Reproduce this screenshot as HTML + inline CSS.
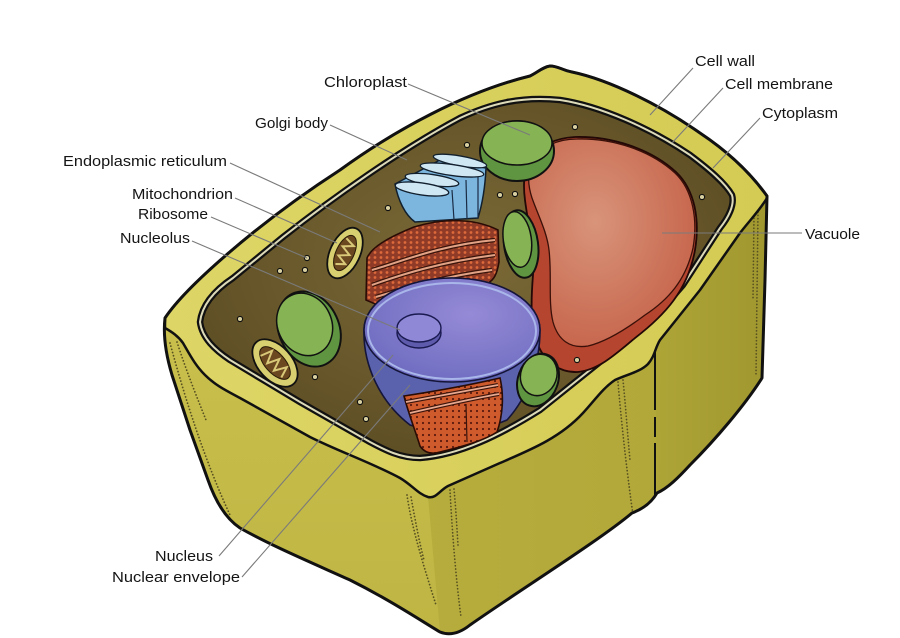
<!DOCTYPE html>
<html><head><meta charset="utf-8"><style>
html,body{margin:0;padding:0;background:#fff;}
svg{display:block;}
text{font-family:"Liberation Sans",Arial,sans-serif;font-size:15px;fill:#141414;}
</style></head><body>
<svg width="900" height="638" viewBox="0 0 900 638" xmlns="http://www.w3.org/2000/svg">
<defs>
 <linearGradient id="rim" x1="0" y1="0" x2="1" y2="0"><stop offset="0" stop-color="#ddd566"/><stop offset="1" stop-color="#d4cb54"/></linearGradient>
 <linearGradient id="lf" x1="0" y1="0" x2="0" y2="1"><stop offset="0" stop-color="#c9bf4c"/><stop offset="1" stop-color="#bfb544"/></linearGradient>
 <linearGradient id="mf" x1="0" y1="0" x2="1" y2="0"><stop offset="0" stop-color="#bcb241"/><stop offset="1" stop-color="#b0a638"/></linearGradient>
 <linearGradient id="rf" x1="0" y1="0" x2="1" y2="0"><stop offset="0" stop-color="#aea537"/><stop offset="1" stop-color="#a0972f"/></linearGradient>
 <radialGradient id="cy" cx="0.5" cy="0.45" r="0.6"><stop offset="0" stop-color="#7b6a37"/><stop offset="1" stop-color="#5c4c23"/></radialGradient>
 <radialGradient id="vl" cx="0.4" cy="0.4" r="0.65"><stop offset="0" stop-color="#d8947a"/><stop offset="1" stop-color="#c6644b"/></radialGradient>
 <radialGradient id="nt" cx="0.6" cy="0.35" r="0.7"><stop offset="0" stop-color="#958ad6"/><stop offset="1" stop-color="#6e6cc0"/></radialGradient>
 <pattern id="erU" width="6" height="5" patternUnits="userSpaceOnUse"><rect width="6" height="5" fill="#8f3b27"/><circle cx="3" cy="2.5" r="1.4" fill="#de6a3c"/></pattern>
 <pattern id="erL" width="6" height="6" patternUnits="userSpaceOnUse"><rect width="6" height="6" fill="#cf5a2c"/><circle cx="3" cy="3" r="1.1" fill="#5a1a0c"/></pattern>
</defs>
<rect width="900" height="638" fill="#fff"/>

<path d="M165,318 C185,288 255,225 340,170 C395,130 465,92 530,76 C538,72 543,67 550,66 C558,66 562,70 572,72 C610,80 660,105 700,133 C730,153 752,175 767,196 L765,280 L762,378 C745,405 715,440 690,465 C678,478 668,488 657,493 C650,505 640,510 632,513 C600,540 520,590 470,625 C460,633 450,636 440,632 C420,620 390,600 350,580 C310,562 270,545 240,528 C225,518 215,500 208,480 L190,430 L172,375 C166,355 163,335 165,318 Z" fill="url(#mf)"/>
<path d="M165,328 C172,332 178,336 183,343 C190,355 195,365 205,375 C215,385 225,390 240,398 L310,437 C340,452 370,462 400,478 C412,485 418,494 428,497 L440,632 C420,620 390,600 350,580 C310,562 270,545 240,528 C225,518 215,500 208,480 L190,430 L172,375 C166,355 163,335 165,328 Z" fill="url(#lf)"/>
<path d="M660,340 L700,290 L740,233 C750,220 760,210 767,198 L765,280 L762,378 C745,405 715,440 690,465 C678,478 668,488 657,493 L655,350 Z" fill="url(#rf)"/>

<g fill="none" stroke="#575020" stroke-width="1.7" stroke-dasharray="0.1 3.2" stroke-linecap="round">
 <path d="M170,343 C180,380 200,450 230,515"/>
 <path d="M177,342 C186,370 196,395 206,420"/>
 <path d="M407,495 C412,530 425,570 436,605"/>
 <path d="M411,497 C416,525 420,545 424,560"/>
 <path d="M450,490 C452,530 456,580 461,617"/>
 <path d="M454,489 C456,510 457,530 458,545"/>
 <path d="M618,382 C622,430 628,480 633,515"/>
 <path d="M623,380 C626,410 628,440 630,460"/>
 <path d="M758,212 L756,375"/>
 <path d="M754,215 L753,300"/>
</g>

<path d="M165,318 C185,288 255,225 340,170 C395,130 465,92 530,76 C538,72 543,67 550,66 C558,66 562,70 572,72 C610,80 660,105 700,133 C730,153 752,175 767,196 L767,198 C760,210 750,220 740,233 L700,290 L660,340 C655,348 655,356 648,364 C640,372 628,374 615,380 C603,388 595,400 583,413 C560,438 530,450 500,463 L448,486 C440,490 436,499 428,497 C418,494 412,485 400,478 C370,462 340,452 310,437 L240,398 C225,390 215,385 205,375 C195,365 190,355 183,343 C178,336 172,332 165,328 Z" fill="url(#rim)" stroke="#111" stroke-width="2.5" stroke-linejoin="round"/>

<path d="M165,318 C185,288 255,225 340,170 C395,130 465,92 530,76 C538,72 543,67 550,66 C558,66 562,70 572,72 C610,80 660,105 700,133 C730,153 752,175 767,196 L765,280 L762,378 C745,405 715,440 690,465 C678,478 668,488 657,493 C650,505 640,510 632,513 C600,540 520,590 470,625 C460,633 450,636 440,632 C420,620 390,600 350,580 C310,562 270,545 240,528 C225,518 215,500 208,480 L190,430 L172,375 C166,355 163,335 165,318 Z" fill="none" stroke="#111" stroke-width="3" stroke-linejoin="round"/>
<path d="M655,350 L655,495" stroke="#111" stroke-width="2" stroke-dasharray="60 7 20 6 60"/>

<path d="M200,322 C202,305 215,290 233,278 L283,237 C330,200 400,150 460,118 C490,104 520,96 560,100 C600,106 650,128 690,155 C710,170 725,183 732,195 C735,205 728,218 720,228 L683,285 C660,312 635,338 600,362 L540,410 C500,435 460,455 420,458 C400,458 385,450 370,442 L300,402 L230,360 C215,350 202,338 200,322 Z" fill="url(#cy)" stroke="#111" stroke-width="6.5" stroke-linejoin="round"/>
<path d="M200,322 C202,305 215,290 233,278 L283,237 C330,200 400,150 460,118 C490,104 520,96 560,100 C600,106 650,128 690,155 C710,170 725,183 732,195 C735,205 728,218 720,228 L683,285 C660,312 635,338 600,362 L540,410 C500,435 460,455 420,458 C400,458 385,450 370,442 L300,402 L230,360 C215,350 202,338 200,322 Z" fill="none" stroke="#dcdab8" stroke-width="2"/>

<path d="M530,160 C540,145 555,138 575,137 C610,136 650,148 676,172 C695,190 700,220 695,250 C688,290 665,315 635,338 C615,355 598,370 578,372 C560,373 545,362 538,345 C530,325 531,300 533,275 C535,250 528,225 525,200 C523,185 524,170 530,160 Z" fill="#b5452f" stroke="#220806" stroke-width="1.8"/>
<path d="M532,162 C542,146 557,139 577,139 C612,138 650,150 675,173 C693,190 698,220 693,248 C686,280 668,300 645,315 C625,330 605,342 588,346 C570,349 558,340 553,322 C548,302 552,275 549,250 C547,232 538,215 532,198 C528,186 527,172 532,162 Z" fill="url(#vl)" stroke="#3a1008" stroke-width="1.3"/>

<ellipse cx="517" cy="151" rx="37" ry="30" fill="#5f9540" stroke="#111" stroke-width="2"/>
<ellipse cx="517" cy="143" rx="35" ry="22" fill="#86b455" stroke="#111" stroke-width="1.5"/>
<g transform="translate(521,244) rotate(-8)">
 <ellipse rx="17" ry="34" fill="#5f9540" stroke="#111" stroke-width="2"/>
 <ellipse cx="-3" cy="-5" rx="14" ry="28" fill="#86b455" stroke="#111" stroke-width="1.5"/>
</g>

<path d="M395,184 C398,200 405,215 415,222 L478,218 C482,205 485,190 486,168 L440,160 Z" fill="#7cb6df" stroke="#12202e" stroke-width="1.5"/>
<g stroke="#1a2c44" stroke-width="1.2"><line x1="452" y1="190" x2="454" y2="220"/><line x1="466" y1="180" x2="467" y2="219"/><line x1="478" y1="172" x2="478" y2="218"/></g>
<g fill="#cfe6f3" stroke="#12202e" stroke-width="1.3">
 <ellipse cx="460" cy="161" rx="27" ry="5" transform="rotate(10 460 161)"/>
 <ellipse cx="452" cy="170" rx="32" ry="5.5" transform="rotate(8 452 170)"/>
 <ellipse cx="432" cy="180" rx="27" ry="5.5" transform="rotate(8 432 180)"/>
 <ellipse cx="422" cy="189" rx="27" ry="6" transform="rotate(8 422 189)"/>
</g>

<path d="M367,258 C372,246 392,236 414,227 C440,219 472,217 498,230 L499,262 C497,274 494,280 488,283 L380,306 L366,300 Z" fill="url(#erU)" stroke="#2a0c05" stroke-width="1.6"/>
<g fill="none">
 <g stroke="#3a140a" stroke-width="4.5"><path d="M372,270 C400,262 440,245 495,240"/><path d="M372,285 C400,275 440,262 495,255"/><path d="M376,297 C405,288 440,277 492,270"/></g>
 <g stroke="#e2a286" stroke-width="2"><path d="M372,270 C400,262 440,245 495,240"/><path d="M372,285 C400,275 440,262 495,255"/><path d="M376,297 C405,288 440,277 492,270"/></g>
</g>

<path d="M364,330 A88,52 0 0,1 540,330 C540,365 527,398 507,420 C480,432 430,432 410,425 C380,402 363,365 364,330 Z" fill="#5a62ae" stroke="#15153a" stroke-width="1.6"/>
<ellipse cx="452" cy="330" rx="88" ry="52" fill="url(#nt)" stroke="#15153a" stroke-width="1.6"/>
<ellipse cx="452" cy="331" rx="84" ry="48" fill="none" stroke="#a9b6ea" stroke-width="2"/>
<ellipse cx="419" cy="333" rx="22" ry="15" fill="#5e5aac" stroke="#1a1a50" stroke-width="1.4"/>
<ellipse cx="419" cy="328" rx="22" ry="14" fill="#8f88d6" stroke="#1a1a50" stroke-width="1.4"/>

<path d="M404,396 C430,392 470,385 500,378 C504,395 503,415 497,432 C485,440 465,446 440,452 C430,455 424,452 420,446 C415,430 408,412 404,396 Z" fill="url(#erL)" stroke="#2a0c05" stroke-width="1.6"/>
<g fill="none">
 <g stroke="#3a140a" stroke-width="4"><path d="M406,402 C440,396 470,390 498,385"/><path d="M410,413 C440,406 470,399 499,394"/></g>
 <g stroke="#e8a890" stroke-width="1.8"><path d="M406,402 C440,396 470,390 498,385"/><path d="M410,413 C440,406 470,399 499,394"/></g>
 <path d="M466,404 L467,442" stroke="#3a140a" stroke-width="1.2"/>
</g>

<g transform="translate(538,380) rotate(20)">
 <ellipse rx="20" ry="27" fill="#5f9540" stroke="#111" stroke-width="2"/>
 <ellipse cx="-1" cy="-5" rx="18" ry="21" fill="#86b455" stroke="#111" stroke-width="1.5"/>
</g>
<g transform="translate(309,329) rotate(-25)">
 <ellipse rx="30" ry="39" fill="#5f9540" stroke="#111" stroke-width="2"/>
 <ellipse cx="-2" cy="-6" rx="27" ry="32" fill="#86b455" stroke="#111" stroke-width="1.5"/>
</g>

<g transform="translate(345,253) rotate(25)">
 <ellipse rx="15" ry="27" fill="#d8d070" stroke="#111" stroke-width="1.8"/>
 <ellipse rx="9" ry="19" fill="#6b4820" stroke="#2a1a08" stroke-width="1"/>
 <path d="M-5,-14 L5,-10 L-5,-5 L5,0 L-5,5 L5,10 L-4,14" fill="none" stroke="#d8c878" stroke-width="2"/>
</g>
<g transform="translate(275,363) rotate(-42)">
 <ellipse rx="17" ry="28" fill="#d8d070" stroke="#111" stroke-width="1.8"/>
 <ellipse rx="10" ry="20" fill="#6b4820" stroke="#2a1a08" stroke-width="1"/>
 <path d="M-6,-15 L6,-11 L-6,-5 L6,0 L-6,5 L6,11 L-5,15" fill="none" stroke="#d8c878" stroke-width="2"/>
</g>

<g fill="#d8d0a0" stroke="#111" stroke-width="1.1">
 <circle cx="467" cy="145" r="2.6"/><circle cx="388" cy="208" r="2.6"/><circle cx="307" cy="258" r="2.6"/>
 <circle cx="305" cy="270" r="2.6"/><circle cx="280" cy="271" r="2.6"/><circle cx="575" cy="127" r="2.6"/>
 <circle cx="500" cy="195" r="2.6"/><circle cx="515" cy="194" r="2.6"/><circle cx="702" cy="197" r="2.6"/>
 <circle cx="240" cy="319" r="2.6"/><circle cx="315" cy="377" r="2.6"/><circle cx="360" cy="402" r="2.6"/>
 <circle cx="366" cy="419" r="2.6"/><circle cx="577" cy="360" r="2.6"/>
</g>

<g stroke="#7a7a7a" stroke-width="1.1" fill="none">
 <line x1="693" y1="68" x2="650" y2="115"/>
 <line x1="723" y1="88" x2="672" y2="143"/>
 <line x1="760" y1="118" x2="713" y2="168"/>
 <line x1="802" y1="233" x2="662" y2="233"/>
 <line x1="408" y1="84" x2="530" y2="135"/>
 <line x1="330" y1="125" x2="407" y2="160"/>
 <line x1="230" y1="163" x2="380" y2="232"/>
 <line x1="235" y1="198" x2="337" y2="243"/>
 <line x1="211" y1="217" x2="307" y2="258"/>
 <line x1="192" y1="241" x2="400" y2="330"/>
 <line x1="219" y1="556" x2="393" y2="355"/>
 <line x1="242" y1="577" x2="410" y2="385"/>
</g>

<text x="324" y="87" textLength="83" lengthAdjust="spacingAndGlyphs">Chloroplast</text>
<text x="255" y="128" textLength="73" lengthAdjust="spacingAndGlyphs">Golgi body</text>
<text x="63" y="166" textLength="164" lengthAdjust="spacingAndGlyphs">Endoplasmic reticulum</text>
<text x="132" y="199" textLength="101" lengthAdjust="spacingAndGlyphs">Mitochondrion</text>
<text x="138" y="219" textLength="70" lengthAdjust="spacingAndGlyphs">Ribosome</text>
<text x="120" y="243" textLength="70" lengthAdjust="spacingAndGlyphs">Nucleolus</text>
<text x="695" y="66" textLength="60" lengthAdjust="spacingAndGlyphs">Cell wall</text>
<text x="725" y="89" textLength="108" lengthAdjust="spacingAndGlyphs">Cell membrane</text>
<text x="762" y="118" textLength="76" lengthAdjust="spacingAndGlyphs">Cytoplasm</text>
<text x="805" y="239" textLength="55" lengthAdjust="spacingAndGlyphs">Vacuole</text>
<text x="155" y="561" textLength="58" lengthAdjust="spacingAndGlyphs">Nucleus</text>
<text x="112" y="582" textLength="128" lengthAdjust="spacingAndGlyphs">Nuclear envelope</text>
</svg>
</body></html>
